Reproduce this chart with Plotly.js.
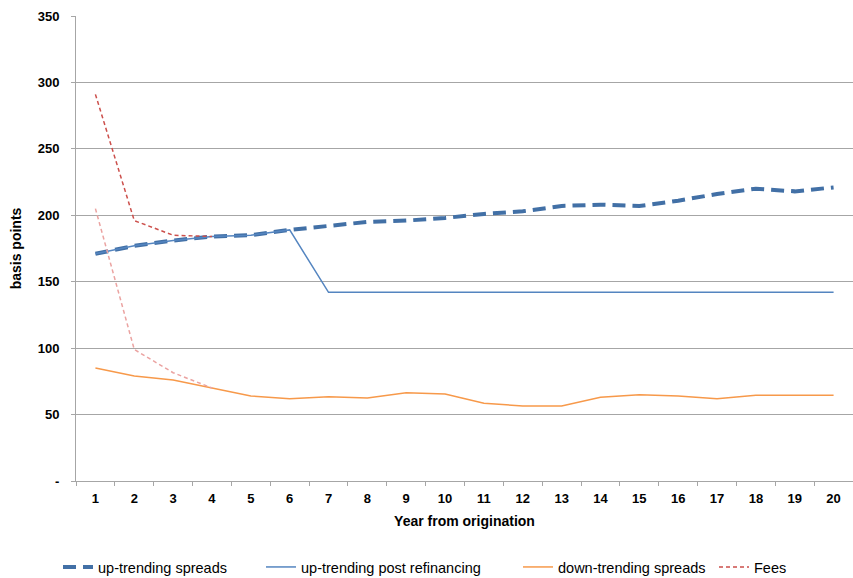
<!DOCTYPE html>
<html>
<head>
<meta charset="utf-8">
<script src="https://cdn.plot.ly/plotly-3.0.1.min.js"></script>
<style>
  html, body { margin: 0; padding: 0; background: #fff; }
  #chart { width: 853px; height: 578px; }
</style>
</head>
<body>
<div id="chart"></div>
<script>
// Years from origination
const years = ['1','2','3','4','5','6','7','8','9','10','11','12','13','14','15','16','17','18','19','20'];

// Spread paths, basis points
const upTrending = [171, 177, 181, 184, 185, 189, 192, 195, 196, 198, 201, 203, 207, 208, 207, 211, 216, 220, 218, 221];
const upPostRefi = [171, 177, 181, 184, 185, 189, 142, 142, 142, 142, 142, 142, 142, 142, 142, 142, 142, 142, 142, 142];
const downTrending = [85, 79, 76, 70, 64, 62, 63.5, 62.5, 66.5, 65.5, 58.5, 56.5, 56.5, 63, 65, 64, 62, 64.5, 64.5, 64.5];

// Fee paths over the first years
const feeYears = ['1','2','3','4'];
const feesUp = [291, 196, 185, 184];
const feesDown = [205, 99, 81.5, 70];

// y-axis ticks
const yTickVals = [0, 50, 100, 150, 200, 250, 300, 350];
const yTickText = ['-', '50', '100', '150', '200', '250', '300', '350'];

const SANS = '"Liberation Sans", Arial, sans-serif';

const traces = [
  {
    x: years, y: upTrending, name: 'up-trending spreads', type: 'scatter', mode: 'lines',
    legend: 'legend',
    line: { color: '#4270a6', width: 4, dash: '13px,7px' }
  },
  {
    x: years, y: upPostRefi, name: 'up-trending post refinancing', type: 'scatter', mode: 'lines',
    legend: 'legend2',
    line: { color: '#5485c0', width: 1.5 }
  },
  {
    x: years, y: downTrending, name: 'down-trending spreads', type: 'scatter', mode: 'lines',
    legend: 'legend3',
    line: { color: '#f7994a', width: 1.5 }
  },
  {
    x: feeYears, y: feesUp, name: 'Fees', type: 'scatter', mode: 'lines',
    legend: 'legend4',
    line: { color: '#cc4f4b', width: 1.5, dash: '4px,3px' }
  },
  {
    x: feeYears, y: feesDown, name: 'Fees', type: 'scatter', mode: 'lines', showlegend: false,
    line: { color: '#eba3a1', width: 1.5, dash: '4px,3px' }
  }
];

// one legend box per entry, laid out in a row under the plot
function legendAt(px) {
  return {
    orientation: 'h', xref: 'container', yref: 'container',
    x: px / 853, y: 0.019, xanchor: 'left', yanchor: 'middle',
    font: { family: SANS, size: 14.5, color: '#000' },
    bgcolor: 'rgba(0,0,0,0)', borderwidth: 0, itemwidth: 30
  };
}

const layout = {
  width: 853, height: 578,
  margin: { l: 76, r: 0, t: 16, b: 97 },
  paper_bgcolor: '#ffffff', plot_bgcolor: '#ffffff',
  font: { family: SANS, size: 13, color: '#000' },
  showlegend: true,
  legend: legendAt(58),
  legend2: legendAt(261),
  legend3: legendAt(518),
  legend4: legendAt(714),
  xaxis: {
    type: 'category', tickson: 'boundaries', range: [-0.5, 19.5],
    ticks: 'outside', ticklen: 4, tickcolor: '#a6a6a6', ticklabelstandoff: 5,
    showline: true, linecolor: '#a6a6a6', linewidth: 1,
    showgrid: false, zeroline: false,
    tickfont: { family: SANS, size: 13, color: '#000', weight: 'bold' },
    title: { text: 'Year from origination', standoff: 11, font: { family: SANS, size: 14, color: '#000', weight: 'bold' } }
  },
  yaxis: {
    range: [0, 350], tickmode: 'array', tickvals: yTickVals, ticktext: yTickText,
    ticks: 'outside', ticklen: 4, tickcolor: '#a6a6a6', ticklabelstandoff: 9,
    showline: true, linecolor: '#a6a6a6', linewidth: 1,
    showgrid: true, gridcolor: '#a6a6a6', gridwidth: 1, zeroline: false,
    tickfont: { family: SANS, size: 13, color: '#000', weight: 'bold' },
    title: { text: 'basis points', standoff: 12, font: { family: SANS, size: 14, color: '#000', weight: 'bold' } }
  }
};

Plotly.newPlot('chart', traces, layout, { displayModeBar: false, staticPlot: true });
</script>
</body>
</html>
